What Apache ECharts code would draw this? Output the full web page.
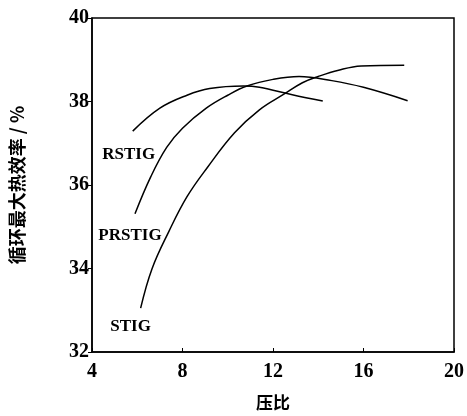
<!DOCTYPE html>
<html>
<head>
<meta charset="utf-8">
<script src="https://cdn.jsdelivr.net/npm/echarts@6/dist/echarts.min.js"></script>
<style>
  html, body { margin: 0; padding: 0; background: #fff; }
  #chart { width: 467px; height: 416px; }
</style>
</head>
<body>
<div id="chart"></div>
<script>
// pressure ratio -> max cycle thermal efficiency (%)
var rstig = [[5.8, 37.29], [7.0, 37.84], [8.2, 38.15], [9.2, 38.31], [10.7, 38.37], [11.4, 38.34], [12.85, 38.16], [14.2, 38.01]];
var prstig = [[5.9, 35.31], [6.6, 36.2], [7.3, 36.9], [8.0, 37.36], [9.05, 37.84], [10.0, 38.15], [10.85, 38.37], [12.0, 38.53], [13.15, 38.6], [14.6, 38.5], [16.0, 38.34], [17.95, 38.02]];
var stig = [[6.15, 33.05], [6.65, 33.99], [7.4, 34.89], [8.2, 35.72], [9.1, 36.42], [10.3, 37.25], [11.4, 37.8], [12.5, 38.18], [13.3, 38.45], [14.0, 38.6], [14.9, 38.75], [15.9, 38.85], [17.8, 38.87]];
var seriesNames = ['RSTIG', 'PRSTIG', 'STIG'];
var labelOffsets = [[-4, 10], [-5, 8], [-10, 5]];

var serif = '"Liberation Serif", "DejaVu Serif", serif';

function makeSeries(name, data, off) {
    var pts = data.map(function (p, i) {
        if (i === 0) {
            return {
                value: p,
                label: {
                    show: true,
                    position: 'bottom',
                    offset: off,
                    formatter: name,
                    color: '#000',
                    fontFamily: serif,
                    fontWeight: 'bold',
                    fontSize: 17
                }
            };
        }
        return p;
    });
    return {
        name: name,
        type: 'line',
        smooth: 0.4,
        symbol: 'circle',
        symbolSize: 0,
        showAllSymbol: true,
        lineStyle: { color: '#000', width: 1.5 },
        itemStyle: { color: '#000' },
        data: pts
    };
}

var option = {
    animation: false,
    backgroundColor: '#fff',
    grid: { left: 88, right: 9, top: 18, bottom: 58, show: true, borderColor: '#000', borderWidth: 1.5 },
    xAxis: {
        type: 'value',
        min: 4, max: 20, interval: 4,
        name: '压比',
        nameLocation: 'middle',
        nameGap: 42,
        nameTextStyle: { color: '#000', fontFamily: '"Noto Sans CJK SC"', fontWeight: 'bold', fontSize: 17 },
        axisLine: { lineStyle: { color: '#000', width: 1.5 } },
        axisTick: { inside: true, length: 4, lineStyle: { color: '#000' } },
        axisLabel: { color: '#000', fontFamily: serif, fontWeight: 'bold', fontSize: 20, margin: 10 },
        splitLine: { show: false }
    },
    yAxis: {
        type: 'value',
        min: 32, max: 40, interval: 2,
        name: '循环最大热效率 / %',
        nameLocation: 'middle',
        nameGap: 66,
        nameTextStyle: { color: '#000', fontFamily: '"Noto Sans CJK SC"', fontWeight: 'bold', fontSize: 18 },
        axisLine: { lineStyle: { color: '#000', width: 1.5 } },
        axisTick: { length: 4, lineStyle: { color: '#000' } },
        axisLabel: { color: '#000', fontFamily: serif, fontWeight: 'bold', fontSize: 20, margin: 3 },
        splitLine: { show: false }
    },
    series: [
        makeSeries(seriesNames[0], rstig, labelOffsets[0]),
        makeSeries(seriesNames[1], prstig, labelOffsets[1]),
        makeSeries(seriesNames[2], stig, labelOffsets[2])
    ]
};

echarts.init(document.getElementById('chart')).setOption(option);
</script>
</body>
</html>
